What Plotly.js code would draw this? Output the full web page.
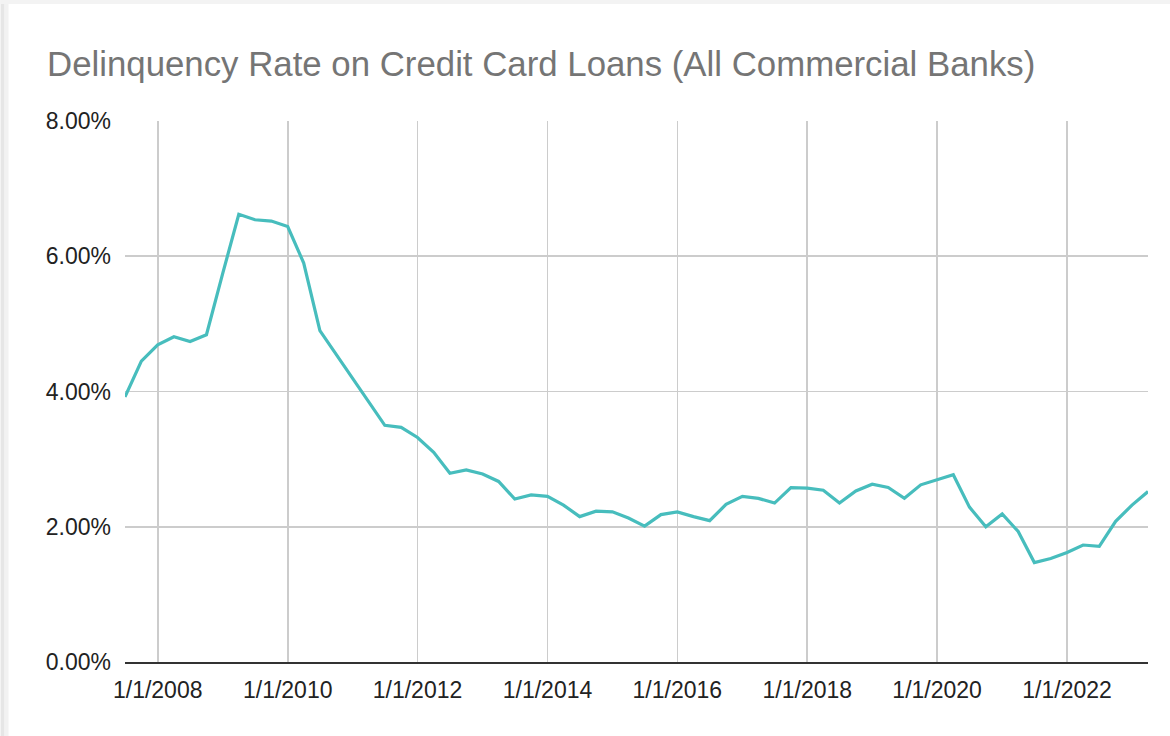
<!DOCTYPE html>
<html>
<head>
<meta charset="utf-8">
<script src="https://cdn.plot.ly/plotly-3.0.1.min.js"></script>
<style>
  html, body { margin: 0; padding: 0; background: #fff; }
  #chart { width: 1170px; height: 736px; }
</style>
</head>
<body>
<div id="chart"></div>
<script>
// Quarterly dates (first day of quarter)
const dates = [
  "2007-07-01","2007-10-01","2008-01-01","2008-04-01","2008-07-01","2008-10-01",
  "2009-01-01","2009-04-01","2009-07-01","2009-10-01","2010-01-01","2010-04-01",
  "2010-07-01","2010-10-01","2011-01-01","2011-04-01","2011-07-01","2011-10-01",
  "2012-01-01","2012-04-01","2012-07-01","2012-10-01","2013-01-01","2013-04-01",
  "2013-07-01","2013-10-01","2014-01-01","2014-04-01","2014-07-01","2014-10-01",
  "2015-01-01","2015-04-01","2015-07-01","2015-10-01","2016-01-01","2016-04-01",
  "2016-07-01","2016-10-01","2017-01-01","2017-04-01","2017-07-01","2017-10-01",
  "2018-01-01","2018-04-01","2018-07-01","2018-10-01","2019-01-01","2019-04-01",
  "2019-07-01","2019-10-01","2020-01-01","2020-04-01","2020-07-01","2020-10-01",
  "2021-01-01","2021-04-01","2021-07-01","2021-10-01","2022-01-01","2022-04-01",
  "2022-07-01","2022-10-01","2023-01-01","2023-04-01"
];
// Delinquency rate, percent
const rates = [
  3.92, 4.45, 4.69, 4.81, 4.74, 4.84,
  5.75, 6.62, 6.54, 6.52, 6.44, 5.90,
  4.90, 4.55, 4.20, 3.85, 3.50, 3.47,
  3.32, 3.10, 2.79, 2.84, 2.78, 2.67,
  2.41, 2.47, 2.45, 2.32, 2.15, 2.23,
  2.22, 2.13, 2.01, 2.18, 2.22, 2.15,
  2.09, 2.33, 2.45, 2.42, 2.35, 2.58,
  2.57, 2.54, 2.35, 2.53, 2.63, 2.58,
  2.42, 2.62, 2.70, 2.77, 2.29, 2.00,
  2.19, 1.93, 1.47, 1.53, 1.62, 1.73,
  1.71, 2.08, 2.32, 2.52
];
const yTicks = [0, 2, 4, 6, 8];
const xTicks = ["2008-01-01","2010-01-01","2012-01-01","2014-01-01","2016-01-01","2018-01-01","2020-01-01","2022-01-01"];
const xTickText = ["1/1/2008","1/1/2010","1/1/2012","1/1/2014","1/1/2016","1/1/2018","1/1/2020","1/1/2022"];
const titleText = "Delinquency Rate on Credit Card Loans (All Commercial Banks)";

const trace = {
  x: dates, y: rates, type: "scatter", mode: "lines",
  line: { color: "#47bdbd", width: 3.2 },
  hoverinfo: "x+y"
};

const W = 1170, H = 736, ML = 124.5, MR = 22, MT = 121, MB = 74;
const PW = W - ML - MR, PH = H - MT - MB;
const px = v => (v - ML) / PW;
const py = v => (H - MB - v) / PH;

const layout = {
  width: W, height: H,
  paper_bgcolor: "#ffffff", plot_bgcolor: "#ffffff",
  margin: { l: ML, r: MR, t: MT, b: MB },
  font: { family: "Liberation Sans, Arial, sans-serif", color: "#222222", size: 23 },
  title: {
    text: titleText,
    font: { family: "Liberation Sans, Arial, sans-serif", size: 34.8, color: "#757575" },
    x: 47 / W, xanchor: "left", xref: "container",
    y: 1 - 64 / H, yanchor: "middle", yref: "container"
  },
  xaxis: {
    type: "date",
    range: ["2007-07-01", "2023-04-01"],
    tickvals: xTicks, ticktext: xTickText,
    showgrid: true, gridcolor: "#cccccc", gridwidth: 1.6,
    showline: true, linecolor: "#333333", linewidth: 2,
    ticks: "", ticklen: 0, ticklabelstandoff: 6,
    tickfont: { size: 23, color: "#222222" },
    zeroline: false, fixedrange: true
  },
  yaxis: {
    range: [0, 8],
    tickvals: yTicks, ticktext: yTicks.map(v => v.toFixed(2) + "%"),
    showgrid: true, gridcolor: "#cccccc", gridwidth: 1.6,
    showline: false, zeroline: false,
    ticks: "", ticklen: 0, ticklabelstandoff: 13,
    tickfont: { size: 23, color: "#222222" },
    fixedrange: true
  },
  showlegend: false,
  shapes: [
    { type: "rect", xref: "paper", yref: "paper", layer: "below",
      x0: px(0), x1: px(4), y0: py(H), y1: py(0), fillcolor: "#e6e6e6", line: { width: 0 } },
    { type: "rect", xref: "paper", yref: "paper", layer: "below",
      x0: px(4), x1: px(8), y0: py(H), y1: py(0), fillcolor: "#f2f2f2", line: { width: 0 } },
    { type: "rect", xref: "paper", yref: "paper", layer: "below",
      x0: px(0), x1: px(W), y0: py(4), y1: py(0), fillcolor: "#f3f3f3", line: { width: 0 } }
  ]
};

Plotly.newPlot("chart", [trace], layout, { displayModeBar: false, staticPlot: true });
</script>
</body>
</html>
